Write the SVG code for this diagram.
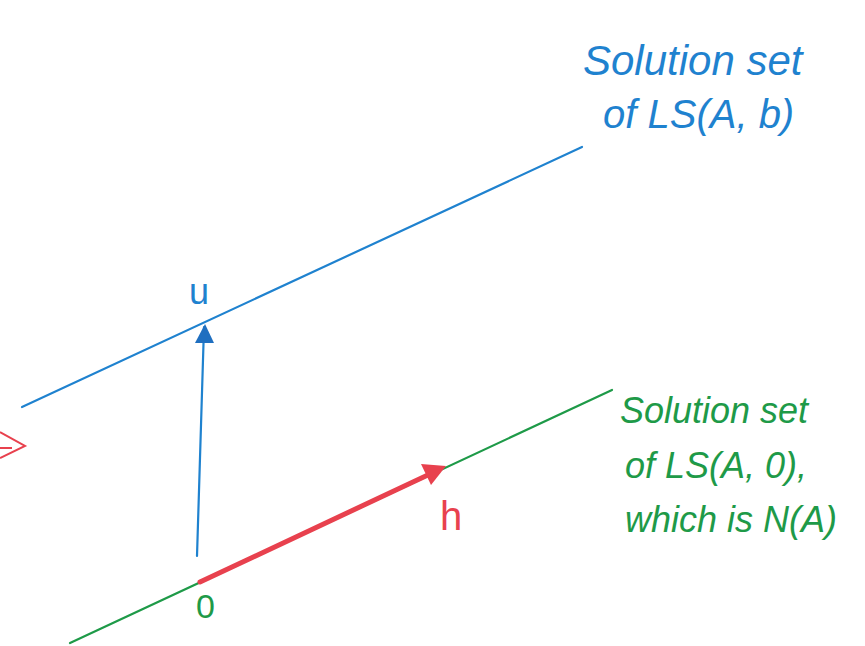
<svg xmlns="http://www.w3.org/2000/svg" width="865" height="646" viewBox="0 0 865 646">
<style>
.blue{stroke:#1f82cf;stroke-width:2.2;fill:none;stroke-linecap:round}
.green{stroke:#1e9a48;stroke-width:2.2;fill:none;stroke-linecap:round}
.red{stroke:#e8414e;stroke-width:5;fill:none;stroke-linecap:round}
.tb{fill:#1f82cf;font-family:"Liberation Sans",sans-serif;font-style:italic}
.tg{fill:#1e9a48;font-family:"Liberation Sans",sans-serif;font-style:italic}
.tr{fill:#e8414e;font-family:"Liberation Sans",sans-serif}
</style>
<rect width="865" height="646" fill="#ffffff"/>
<g id="connectors">
<line id="line-b" class="blue" x1="22" y1="407" x2="582" y2="147"/>
<line id="line-0" class="green" x1="70" y1="643" x2="612" y2="390"/>
<line id="vec-u" class="blue" x1="197" y1="556" x2="204" y2="327"/>
<path d="M195,343 L205,324 L214,343 z" fill="#1f6fc0"/>
<line id="vec-h" class="red" x1="200" y1="582" x2="430" y2="474"/>
<path d="M446,466 L431,485 L421,464 z" fill="#e8414e"/>
</g>
<g id="mark-left">
<path d="M0,432 L25,446 L0,458 M0,448 L12,448" fill="none" stroke="#e8414e" stroke-width="2"/>
</g>
<g id="label-u"><text x="189" y="304" font-size="36" fill="#1f82cf" font-family="Liberation Sans, sans-serif">u</text></g>
<g id="label-h"><text class="tr" x="440" y="530" font-size="40">h</text></g>
<g id="label-0"><text x="196" y="618" font-size="34" fill="#1e9a48" font-family="Liberation Sans, sans-serif">0</text></g>
<g id="label-b">
<text class="tb" x="583" y="75" font-size="42">Solution set</text>
<text class="tb" x="603" y="128" font-size="40">of LS(A, b)</text>
</g>
<g id="label-0set">
<text class="tg" x="620" y="423" font-size="36">Solution set</text>
<text class="tg" x="625" y="478" font-size="36">of LS(A, 0),</text>
<text class="tg" x="625" y="532" font-size="36">which is N(A)</text>
</g>
</svg>
